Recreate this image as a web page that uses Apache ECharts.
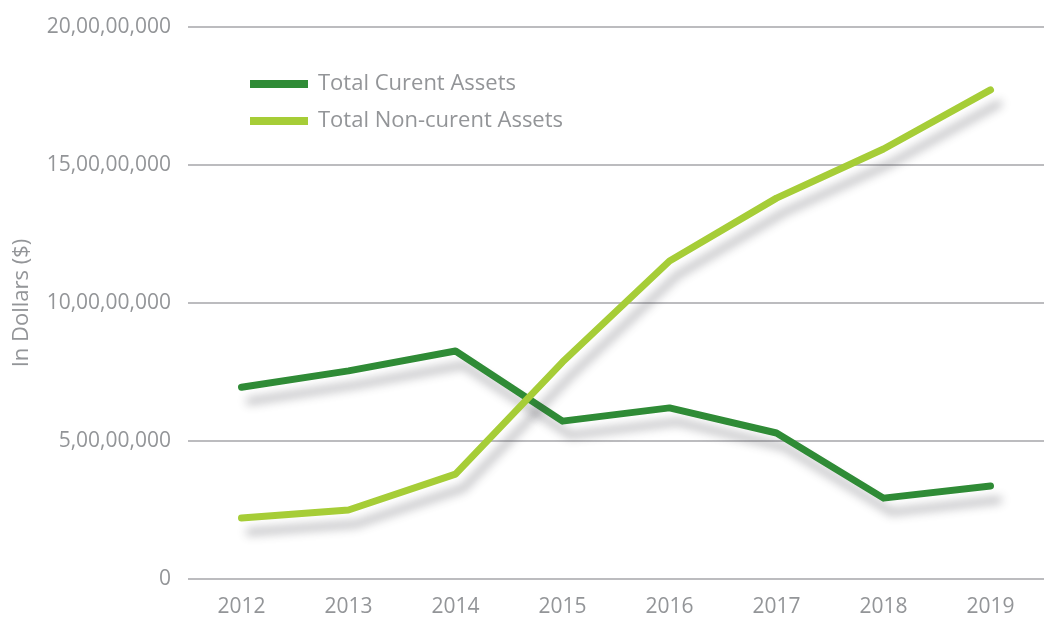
<!DOCTYPE html>
<html>
<head>
<meta charset="utf-8">
<script src="https://cdn.jsdelivr.net/npm/echarts@6/dist/echarts.min.js"></script>
<style>
  html, body { margin: 0; padding: 0; background: #fff; }
  #chart { width: 1044px; height: 620px; }
</style>
</head>
<body>
<div id="chart"></div>
<script>
const years = ['2012', '2013', '2014', '2015', '2016', '2017', '2018', '2019'];
const currentAssets = [69500000, 75400000, 82600000, 57200000, 62000000, 52900000, 29300000, 33700000];
const nonCurrentAssets = [22100000, 25000000, 38000000, 78600000, 115200000, 138000000, 155800000, 177200000];
const seriesNames = ['Total Curent Assets', 'Total Non-curent Assets'];
const seriesColors = ['#2f8b36', '#a6cd37'];

// indian style grouping: 20,00,00,000
const indianFormat = (v) => {
  const s = String(Math.round(v));
  if (s.length <= 3) return s;
  const last3 = s.slice(-3);
  const rest = s.slice(0, -3).replace(/\B(?=(\d{2})+(?!\d))/g, ',');
  return rest + ',' + last3;
};

const textColor = '#939598';
const font = '"Open Sans", "Noto Sans", sans-serif';

const lineSeries = (name, data, color) => ({
  name,
  type: 'line',
  data,
  symbol: 'none',
  silent: true,
  lineStyle: {
    color,
    width: 7,
    cap: 'round',
    join: 'round',
    shadowColor: 'rgba(60,60,70,0.33)',
    shadowBlur: 10,
    shadowOffsetX: 8,
    shadowOffsetY: 14
  },
  itemStyle: { color }
});

const chart = echarts.init(document.getElementById('chart'));
chart.setOption({
  animation: false,
  grid: { left: 188, right: 0, top: 27, bottom: 41, outerBoundsMode: 'none', containLabel: false },
  legend: {
    orient: 'vertical',
    left: 245,
    top: 68,
    icon: 'rect',
    itemWidth: 58,
    itemHeight: 8,
    itemGap: 15,
    textStyle: { color: textColor, fontSize: 22, lineHeight: 22, fontFamily: font, padding: [0, 0, 0, 5] },
    data: seriesNames
  },
  xAxis: {
    type: 'category',
    data: years,
    boundaryGap: true,
    axisLine: { show: false },
    axisTick: { show: false },
    axisLabel: { color: textColor, fontSize: 21, fontFamily: font, margin: 18 }
  },
  yAxis: {
    type: 'value',
    min: 0,
    max: 200000000,
    interval: 50000000,
    name: 'In Dollars ($)',
    nameLocation: 'middle',
    nameGap: 155,
    nameRotate: 90,
    nameTextStyle: { color: textColor, fontSize: 22, fontFamily: font },
    axisLine: { show: false },
    axisTick: { show: false },
    axisLabel: { color: textColor, fontSize: 21, fontFamily: font, margin: 17, formatter: indianFormat },
    splitLine: { lineStyle: { color: '#bcbcbf', width: 2 } }
  },
  series: [
    lineSeries(seriesNames[0], currentAssets, seriesColors[0]),
    lineSeries(seriesNames[1], nonCurrentAssets, seriesColors[1])
  ]
});
</script>
</body>
</html>
